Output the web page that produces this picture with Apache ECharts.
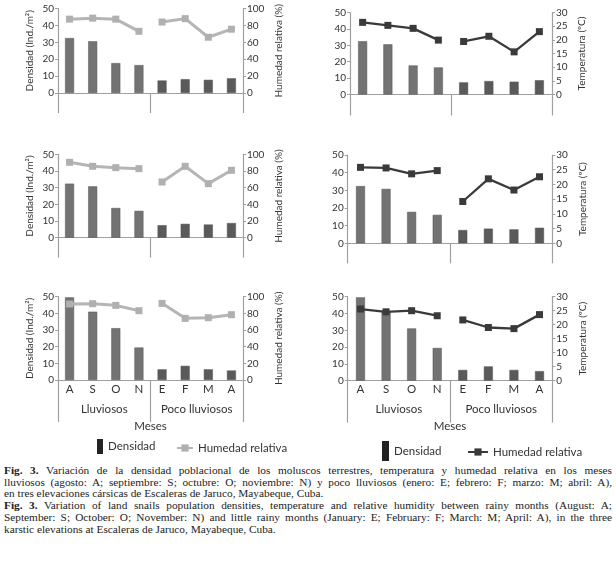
<!DOCTYPE html>
<html>
<head>
<meta charset="utf-8">
<script src="https://cdn.jsdelivr.net/npm/echarts@6/dist/echarts.min.js"></script>
<style>
  html, body { margin: 0; padding: 0; background: #fff; }
  #chart { position: absolute; left: 0; top: 0; width: 616px; height: 462px; }
  #caption { position: absolute; left: 4px; top: 465px; width: 608px; font-family: "Liberation Serif", "DejaVu Serif", serif; font-size: 11.3px; line-height: 11.7px; color: #222; }
  #caption div { white-space: nowrap; text-align: justify; text-align-last: justify; }
  #caption div.last { text-align: left; text-align-last: left; }
</style>
</head>
<body>
<div id="chart"></div>
<div id="caption">
  <div><b>Fig. 3.</b> Variación de la densidad poblacional de los moluscos terrestres, temperatura y humedad relativa en los meses</div>
  <div>lluviosos (agosto: A; septiembre: S; octubre: O; noviembre: N) y poco lluviosos (enero: E; febrero: F; marzo: M; abril: A),</div>
  <div class="last">en tres elevaciones cársicas de Escaleras de Jaruco, Mayabeque, Cuba.</div>
  <div><b>Fig. 3.</b> Variation of land snails population densities, temperature and relative humidity between rainy months (August: A;</div>
  <div>September: S; October: O; November: N) and little rainy months (January: E; February: F; March: M; April: A), in the three</div>
  <div class="last">karstic elevations at Escaleras de Jaruco, Mayabeque, Cuba.</div>
</div>
<script>
// ---- data ----
const months = ['A', 'S', 'O', 'N', 'E', 'F', 'M', 'A'];
const seasons = ['Lluviosos', 'Poco lluviosos'];
const densityTop = [32.5, 30.6, 17.7, 16.5, 7.4, 8.2, 7.8, 8.7];
const densityMid = [32.4, 30.8, 17.8, 16.1, 7.5, 8.3, 7.9, 8.8];
const densityBot = [49.6, 41.0, 31.1, 19.5, 6.4, 8.5, 6.4, 5.7];
const humidityTop = [87.4, 88.6, 87.4, 73.0, 84.0, 88.0, 66.0, 75.5];
const humidityMid = [90.4, 85.6, 84.0, 82.8, 66.8, 85.6, 64.8, 80.8];
const humidityBot = [91.2, 91.6, 89.6, 83.2, 92.0, 74.0, 74.8, 78.4];
const tempTop = [26.4, 25.3, 24.2, 19.9, 19.4, 21.3, 15.6, 23.0];
const tempMid = [25.8, 25.6, 23.6, 24.7, 14.2, 21.9, 18.1, 22.6];
const tempBot = [25.6, 24.6, 25.0, 23.2, 21.7, 19.0, 18.6, 23.6];
const densityTicks = { min: 0, max: 50, interval: 10 };
const humidityTicks = { min: 0, max: 100, interval: 20 };
const tempTicks = { min: 0, max: 30, interval: 5 };

// ---- layout ----
const FONT = 'Lato, "Open Sans", sans-serif';
const AXIS = '#a0a0a0';
const TXT = '#333';
const panels = [
  { grid: { left: 58, top: 8.5, width: 185, height: 84.5 }, dens: densityTop, line: humidityTop, kind: 'rh', leftName: true, sep: 20, bottom: false },
  { grid: { left: 350, top: 12.5, width: 202, height: 82 }, dens: densityTop, line: tempTop, kind: 't', leftName: false, sep: 21, bottom: false },
  { grid: { left: 58, top: 154.3, width: 185, height: 83.4 }, dens: densityMid, line: humidityMid, kind: 'rh', leftName: true, sep: 20, bottom: false },
  { grid: { left: 347.7, top: 155, width: 204.6, height: 88.3 }, dens: densityMid, line: tempMid, kind: 't', leftName: false, sep: 20, bottom: false },
  { grid: { left: 58, top: 296.7, width: 185, height: 83.3 }, dens: densityBot, line: humidityBot, kind: 'rh', leftName: true, sep: 42, bottom: true },
  { grid: { left: 347.7, top: 296.7, width: 204.6, height: 84 }, dens: densityBot, line: tempBot, kind: 't', leftName: false, sep: 42, bottom: true }
];

const grid = [], xAxis = [], yAxis = [], series = [];
panels.forEach((p, i) => {
  grid.push(p.grid);
  // month axis
  xAxis.push({
    type: 'category', gridIndex: i, data: months, position: 'bottom',
    axisLine: { lineStyle: { color: AXIS, width: 1.2 } },
    axisTick: { show: false },
    axisLabel: { show: p.bottom, interval: 0, margin: 3, fontSize: 11.5, color: TXT, fontFamily: FONT }
  });
  // season axis (separators + labels)
  xAxis.push({
    type: 'category', gridIndex: i, data: seasons, position: 'bottom',
    axisLine: { show: false },
    axisTick: { show: true, interval: 0, length: p.sep, lineStyle: { color: AXIS, width: 1.2 } },
    axisLabel: { show: p.bottom, interval: 0, margin: 23, fontSize: 11.5, color: TXT, fontFamily: FONT, hideOverlap: false },
    name: p.bottom ? 'Meses' : '', nameLocation: 'middle', nameGap: 40,
    nameTextStyle: { fontSize: 11.5, color: TXT, fontFamily: FONT }
  });
  const yCommon = {
    type: 'value', gridIndex: i, splitLine: { show: false },
    axisLine: { show: true, lineStyle: { color: AXIS, width: 1.2 } },
    axisTick: { show: true, length: 3, lineStyle: { color: AXIS } },
    axisLabel: { margin: 4, fontSize: 10, color: TXT, fontFamily: FONT },
    nameLocation: 'middle', nameRotate: 90,
    nameTextStyle: { fontSize: 10, color: TXT, fontFamily: FONT }
  };
  yAxis.push(Object.assign({}, yCommon, densityTicks, {
    position: 'left', name: p.leftName ? 'Densidad (Ind./m²)' : '', nameGap: 23
  }));
  yAxis.push(Object.assign({}, yCommon, p.kind === 'rh' ? humidityTicks : tempTicks, {
    position: 'right',
    name: p.kind === 'rh' ? 'Humedad relativa (%)' : 'Temperatura (ºC)',
    nameGap: p.kind === 'rh' ? 31 : 25
  }));
  series.push({
    type: 'bar', name: 'Densidad', xAxisIndex: 2 * i, yAxisIndex: 2 * i, data: p.dens,
    barWidth: 9,
    itemStyle: { color: (d) => d.dataIndex < 4 ? '#737373' : '#5a5a5a', borderColor: '#555', borderWidth: 0.5 }
  });
  const isRh = p.kind === 'rh';
  const lineStyleObj = isRh ? { color: '#b5b5b5', width: 3 } : { color: '#3a3a3a', width: 2.3 };
  const parts = [p.line.map((v, k) => k < 4 ? v : '-'), p.line.map((v, k) => k >= 4 ? v : '-')];
  parts.forEach(d => {
    series.push({
      type: 'line', name: isRh ? 'Humedad relativa' : 'Temperatura',
      xAxisIndex: 2 * i, yAxisIndex: 2 * i + 1, data: d,
      symbol: 'rect', symbolSize: 7, connectNulls: false,
      lineStyle: lineStyleObj,
      itemStyle: { color: isRh ? '#b0b0b0' : '#3a3a3a' },
      z: 3
    });
  });
});

const legendText = { fontSize: 11.5, color: TXT, fontFamily: FONT };
const legend = [
  { left: 92, top: 434, itemWidth: 6, itemHeight: 15, data: [{ name: 'Densidad', icon: 'rect', itemStyle: { color: '#222', borderWidth: 0 } }], textStyle: legendText, selectedMode: false },
  { left: 171, top: 437, itemWidth: 16, itemHeight: 9, data: ['Humedad relativa'], textStyle: legendText, selectedMode: false },
  { left: 377, top: 436, itemWidth: 7, itemHeight: 20, data: [{ name: 'Densidad', icon: 'rect', itemStyle: { color: '#222', borderWidth: 0 } }], textStyle: legendText, selectedMode: false },
  { left: 462, top: 441, itemWidth: 20, itemHeight: 9, data: ['Temperatura'], formatter: () => 'Humedad relativa', textStyle: legendText, selectedMode: false }
];

const chart = echarts.init(document.getElementById('chart'), null, { renderer: 'canvas' });
chart.setOption({ animation: false, backgroundColor: '#fff', grid, xAxis, yAxis, series, legend });
</script>
</body>
</html>
